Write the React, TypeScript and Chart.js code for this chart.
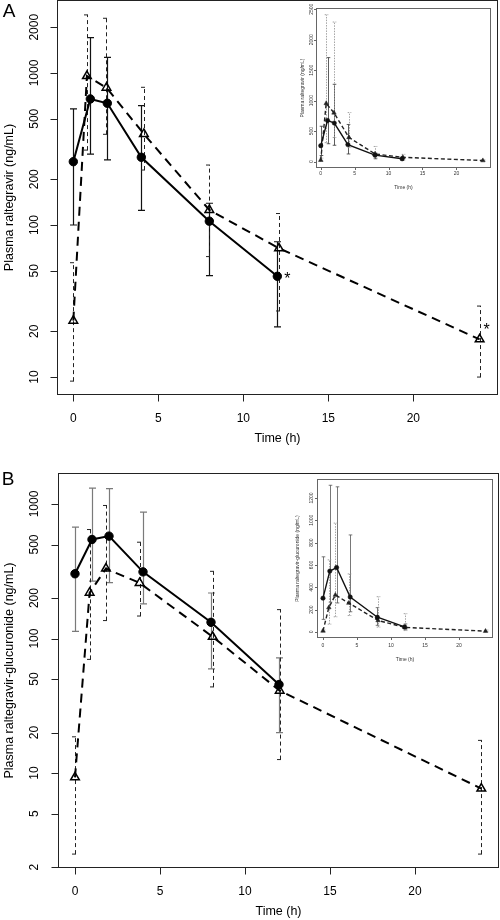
import React, { useEffect, useRef } from "react";
import { Chart, registerables } from "chart.js";
Chart.register(...registerables);

// ---------- Data ----------
// Panel A: raltegravir
const timesA1 = [0, 1, 2, 4, 8, 12];
const meanA1 = [261, 675, 632, 279, 106, 46];
const loA1 = [100, 293, 268, 125, 46.4, 21.4];
const hiA1 = [580, 1706, 1268, 609, 139, 77.6];
const starA1 = [false, false, false, false, false, true];

const timesA2 = [0, 0.8, 1.95, 4.15, 8, 12.1, 23.9];
const meanA2 = [23.5, 955, 800, 397, 125.6, 70.3, 17.7];
const loA2 = [9.4, 311, 395, 230, 62, 27.2, 10.0];
const hiA2 = [56.5, 2410, 2290, 805, 248, 119, 29.3];
const starA2 = [false, false, false, false, false, false, true];

// Panel B: raltegravir-glucuronide
const timesB1 = [0, 1, 2, 4, 8, 12];
const meanB1 = [303, 545, 577, 313, 132, 45.5];
const loB1 = [113, 267, 260, 181, 59.5, 20];
const hiB1 = [673, 1314, 1300, 869, 218, 71.8];

const timesB2 = [0, 0.86, 1.82, 3.8, 8.1, 12.04, 23.9];
const meanB2 = [9.3, 219, 331, 259, 103, 41, 7.67];
const loB2 = [2.5, 70, 136, 147, 43.7, 12.6, 2.5];
const hiB2 = [18.6, 646, 975, 520, 316, 164, 17.5];

// Tick labels
const xTicks = [0, 5, 10, 15, 20];
const yTicksA = [10, 20, 50, 100, 200, 500, 1000, 2000];
const yTicksB = [2, 5, 10, 20, 50, 100, 200, 500, 1000];
const yTicksInsetA = [0, 500, 1000, 1500, 2000, 2500];
const yTicksInsetB = [0, 200, 400, 600, 800, 1000, 1200];

const FONT = "'Liberation Sans', Arial, Helvetica, sans-serif";

const pts = (t: number[], v: number[]) => t.map((x, i) => ({ x, y: v[i] }));

// ---------- Plugins ----------
function makeAxesPlugin(cfg: any) {
  return {
    id: "rAxes",
    afterDraw(chart: any) {
      const { ctx, chartArea: a, scales } = chart;
      const xs = scales.x;
      const ys = scales.y;
      ctx.save();
      ctx.setLineDash([]);
      ctx.strokeStyle = cfg.frameColor;
      ctx.lineWidth = cfg.frameWidth;
      const L = Math.round(a.left) + 0.5;
      const T = Math.round(a.top) + 0.5;
      const R = Math.round(a.right) - 0.5;
      const B = Math.round(a.bottom) - 0.5;
      ctx.strokeRect(L, T, R - L, B - T);
      // ticks
      ctx.beginPath();
      cfg.xTicks.forEach((v: number) => {
        const x = Math.round(xs.getPixelForValue(v)) + 0.5;
        ctx.moveTo(x, B);
        ctx.lineTo(x, B + cfg.tickLen);
      });
      cfg.yTicks.forEach((v: number) => {
        const y = Math.round(ys.getPixelForValue(v)) + 0.5;
        ctx.moveTo(L, y);
        ctx.lineTo(L - cfg.tickLen, y);
      });
      ctx.stroke();
      // labels
      ctx.fillStyle = cfg.color;
      ctx.font = cfg.font;
      ctx.textAlign = "center";
      ctx.textBaseline = "middle";
      cfg.xTicks.forEach((v: number) => {
        ctx.fillText(String(v), xs.getPixelForValue(v), cfg.xLabelY);
      });
      cfg.yTicks.forEach((v: number) => {
        ctx.save();
        ctx.translate(cfg.yLabelX, ys.getPixelForValue(v));
        ctx.rotate(-Math.PI / 2);
        ctx.fillText(String(v), 0, 0);
        ctx.restore();
      });
      ctx.font = cfg.titleFont;
      ctx.fillText(cfg.xTitle, (a.left + a.right) / 2, cfg.xTitleY);
      ctx.save();
      ctx.translate(cfg.yTitleX, (a.top + a.bottom) / 2);
      ctx.rotate(-Math.PI / 2);
      ctx.fillText(cfg.yTitle, 0, 0);
      ctx.restore();
      if (cfg.letter) {
        ctx.fillStyle = "#000";
        ctx.font = cfg.letterFont;
        ctx.fillText(cfg.letter, cfg.letterX, cfg.letterY);
      }
      ctx.restore();
    },
  };
}

const errorBarPlugin = {
  id: "errBars",
  beforeDatasetsDraw(chart: any) {
    const { ctx, chartArea: a, scales } = chart;
    const xs = scales.x;
    const ys = scales.y;
    ctx.save();
    ctx.beginPath();
    ctx.rect(a.left, a.top, a.right - a.left, a.bottom - a.top);
    ctx.clip();
    chart.data.datasets.forEach((ds: any) => {
      if (!ds.errLo) return;
      const st = ds.errStyle;
      ctx.strokeStyle = st.color;
      ctx.lineWidth = st.width;
      ctx.setLineDash(st.dash || []);
      ds.data.forEach((p: any, j: number) => {
        const x = Math.round(xs.getPixelForValue(p.x)) + 0.5;
        const y1 = ys.getPixelForValue(ds.errLo[j]);
        const y2 = ys.getPixelForValue(ds.errHi[j]);
        const c = st.cap;
        ctx.beginPath();
        ctx.moveTo(x, y1);
        ctx.lineTo(x, y2);
        ctx.moveTo(x - c, y1);
        ctx.lineTo(x + c, y1);
        ctx.moveTo(x - c, y2);
        ctx.lineTo(x + c, y2);
        ctx.stroke();
      });
    });
    ctx.restore();
  },
  afterDatasetsDraw(chart: any) {
    const { ctx, scales } = chart;
    const xs = scales.x;
    const ys = scales.y;
    ctx.save();
    chart.data.datasets.forEach((ds: any) => {
      if (!ds.stars) return;
      ctx.fillStyle = "#000";
      ctx.font = "16px " + FONT;
      ctx.textAlign = "center";
      ctx.textBaseline = "middle";
      ds.data.forEach((p: any, j: number) => {
        if (!ds.stars[j]) return;
        const x = xs.getPixelForValue(p.x) + ds.starOffset[0];
        const y = ys.getPixelForValue(p.y) + ds.starOffset[1];
        ctx.fillText("*", x, y);
      });
    });
    ctx.restore();
  },
};

// ---------- Chart builders ----------
function mainDatasets(t1: number[], m1: number[], lo1: number[], hi1: number[], t2: number[], m2: number[], lo2: number[], hi2: number[], solidBarColor: string, s1?: boolean[], s2?: boolean[]) {
  return [
    {
      data: pts(t1, m1),
      showLine: true,
      borderColor: "#000",
      borderWidth: 2,
      pointStyle: "circle",
      pointRadius: 4.2,
      pointBackgroundColor: "#000",
      pointBorderColor: "#000",
      pointBorderWidth: 1,
      errLo: lo1,
      errHi: hi1,
      errStyle: { color: solidBarColor, width: 1.2, dash: [], cap: 3.5 },
      stars: s1,
      starOffset: [10, 3],
    },
    {
      data: pts(t2, m2),
      showLine: true,
      borderColor: "#000",
      borderWidth: 2,
      borderDash: [9, 6],
      pointStyle: "triangle",
      pointRadius: 5,
      pointBackgroundColor: "rgba(0,0,0,0)",
      pointBorderColor: "#000",
      pointBorderWidth: 1.5,
      errLo: lo2,
      errHi: hi2,
      errStyle: { color: "#222", width: 1, dash: [4, 3], cap: 3.5 },
      stars: s2,
      starOffset: [7, -9],
    },
  ];
}

function insetDatasets(t1: number[], m1: number[], lo1: number[], hi1: number[], t2: number[], m2: number[], lo2: number[], hi2: number[], solidBarColor: string) {
  return [
    {
      data: pts(t1, m1),
      showLine: true,
      borderColor: "#111",
      borderWidth: 1.4,
      pointStyle: "circle",
      pointRadius: 2.2,
      pointBackgroundColor: "#111",
      pointBorderColor: "#111",
      pointBorderWidth: 0.5,
      errLo: lo1,
      errHi: hi1,
      errStyle: { color: solidBarColor, width: 0.8, dash: [], cap: 1.8 },
    },
    {
      data: pts(t2, m2),
      showLine: true,
      borderColor: "#222",
      borderWidth: 1.4,
      borderDash: [4, 2.5],
      pointStyle: "triangle",
      pointRadius: 2.6,
      pointBackgroundColor: "#222",
      pointBorderColor: "#222",
      pointBorderWidth: 0.5,
      errLo: lo2,
      errHi: hi2,
      errStyle: { color: "#9a9a9a", width: 0.9, dash: [1.5, 1.2], cap: 1.8 },
    },
  ];
}

function baseOptions(padding: any, xMin: number, xMax: number, yType: string, yMin: number, yMax: number) {
  return {
    responsive: false,
    animation: false,
    devicePixelRatio: 1,
    events: [],
    layout: { padding, autoPadding: false },
    plugins: { legend: { display: false }, tooltip: { enabled: false } },
    scales: {
      x: { type: "linear", min: xMin, max: xMax, display: false },
      y: { type: yType, min: yMin, max: yMax, display: false },
    },
  };
}

function useChart(ref: any, build: () => any) {
  useEffect(() => {
    const chart = new Chart(ref.current, build());
    return () => chart.destroy();
  }, []);
}

export default function App() {
  const refA = useRef<HTMLCanvasElement>(null);
  const refB = useRef<HTMLCanvasElement>(null);
  const refIA = useRef<HTMLCanvasElement>(null);
  const refIB = useRef<HTMLCanvasElement>(null);

  useChart(refA, () => ({
    type: "scatter",
    data: { datasets: mainDatasets(timesA1, meanA1, loA1, hiA1, timesA2, meanA2, loA2, hiA2, "#111", starA1, starA2) },
    options: baseOptions({ left: 57, right: 2, top: 0, bottom: 65 }, -0.96, 24.98, "logarithmic", 7.62, 3020),
    plugins: [
      errorBarPlugin,
      makeAxesPlugin({
        xTicks, yTicks: yTicksA, tickLen: 7, font: "12px " + FONT, color: "#000", frameColor: "#222", frameWidth: 1,
        xLabelY: 419, yLabelX: 35, xTitle: "Time (h)", xTitleY: 439, yTitle: "Plasma raltegravir (ng/mL)", yTitleX: 10,
        titleFont: "12.5px " + FONT, letter: "A", letterX: 9, letterY: 12, letterFont: "19px " + FONT,
      }),
    ],
  }));

  useChart(refB, () => ({
    type: "scatter",
    data: { datasets: mainDatasets(timesB1, meanB1, loB1, hiB1, timesB2, meanB2, loB2, hiB2, "#7a7a7a") },
    options: baseOptions({ left: 58, right: 1, top: 13, bottom: 52 }, -1.0, 24.94, "logarithmic", 1.97, 1700),
    plugins: [
      errorBarPlugin,
      makeAxesPlugin({
        xTicks, yTicks: yTicksB, tickLen: 7, font: "12px " + FONT, color: "#000", frameColor: "#222", frameWidth: 1,
        xLabelY: 432, yLabelX: 35, xTitle: "Time (h)", xTitleY: 452, yTitle: "Plasma raltegravir-glucuronide (ng/mL)", yTitleX: 10,
        titleFont: "12.5px " + FONT, letter: "B", letterX: 8, letterY: 20, letterFont: "19px " + FONT,
      }),
    ],
  }));

  useChart(refIA, () => ({
    type: "scatter",
    data: { datasets: insetDatasets(timesA1, meanA1, loA1, hiA1, timesA2, meanA2, loA2, hiA2, "#333") },
    options: baseOptions({ left: 26, right: 9, top: 8, bottom: 32 }, -0.7, 25.1, "linear", -105, 2520),
    plugins: [
      errorBarPlugin,
      makeAxesPlugin({
        xTicks, yTicks: yTicksInsetA, tickLen: 2.5, font: "5px " + FONT, color: "#333", frameColor: "#666", frameWidth: 1,
        xLabelY: 174, yLabelX: 22, xTitle: "Time (h)", xTitleY: 188, yTitle: "Plasma raltegravir (ng/mL)", yTitleX: 13,
        titleFont: "5px " + FONT,
      }),
    ],
  }));

  useChart(refIB, () => ({
    type: "scatter",
    data: { datasets: insetDatasets(timesB1, meanB1, loB1, hiB1, timesB2, meanB2, loB2, hiB2, "#555") },
    options: baseOptions({ left: 27, right: 7, top: 9, bottom: 32 }, -0.88, 25.0, "linear", -54, 1370),
    plugins: [
      errorBarPlugin,
      makeAxesPlugin({
        xTicks, yTicks: yTicksInsetB, tickLen: 2.5, font: "5px " + FONT, color: "#333", frameColor: "#666", frameWidth: 1,
        xLabelY: 176, yLabelX: 22, xTitle: "Time (h)", xTitleY: 190, yTitle: "Plasma raltegravir-glucuronide (ng/mL)", yTitleX: 8,
        titleFont: "5px " + FONT,
      }),
    ],
  }));

  const abs = (left: number, top: number): any => ({ position: "absolute", left, top, display: "block" });

  return (
    <div style={{ position: "absolute", left: 0, top: 0, width: 500, height: 920, background: "#fff", overflow: "hidden" }}>
      <canvas ref={refA} width={500} height={460} style={abs(0, 0)} />
      <canvas ref={refB} width={500} height={460} style={abs(0, 460)} />
      <canvas ref={refIA} width={210} height={200} style={abs(290, 0)} />
      <canvas ref={refIB} width={210} height={200} style={abs(290, 470)} />
    </div>
  );
}
